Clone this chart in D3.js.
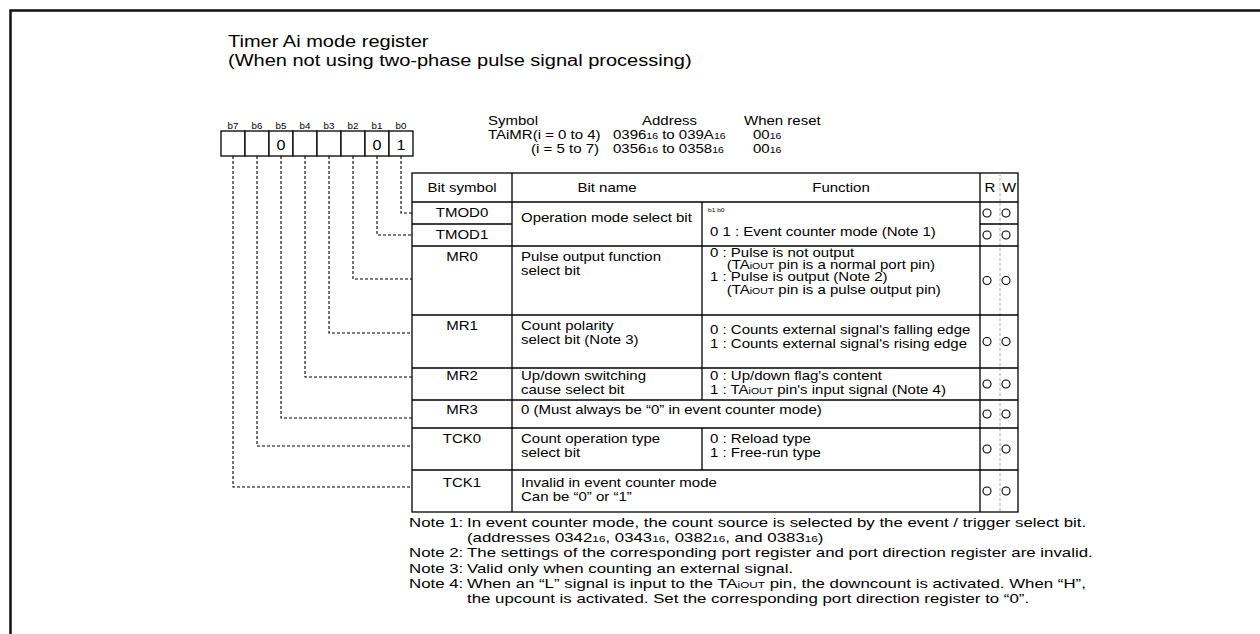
<!DOCTYPE html>
<html><head><meta charset="utf-8">
<script src="https://cdn.jsdelivr.net/npm/d3@7"></script>
<style>
body{margin:0;background:#fff}
svg{display:block}
text{font-family:"Liberation Sans",Arial,sans-serif;fill:#000;white-space:pre}
</style>
</head><body>
<svg id="chart" width="1260" height="634"></svg>
<script>
// ---------------- data ----------------
const titleLines = ["Timer Ai mode register", "(When not using two-phase pulse signal processing)"];
const bitLabels = ["b7", "b6", "b5", "b4", "b3", "b2", "b1", "b0"];
const bitValues = ["", "", "0", "", "", "", "0", "1"];
const symbolHeader = ["Symbol", "Address", "When reset"];
const symbolRow1 = ["TAiMR(i = 0 to 4)", "0396‹16› to 039A‹16›", "00‹16›"];
const symbolRow2 = ["(i = 5 to 7)", "0356‹16› to 0358‹16›", "00‹16›"];
const headerCols = ["Bit symbol", "Bit name", "Function", "R", "W"];
const bitSymbols = ["TMOD0", "TMOD1", "MR0", "MR1", "MR2", "MR3", "TCK0", "TCK1"];
const rowBits = ["b0", "b1", "b2", "b3", "b4", "b5", "b6", "b7"];
const bitNames = [
  ["Operation mode select bit"], null,
  ["Pulse output function", "select bit"],
  ["Count polarity", "select bit (Note 3)"],
  ["Up/down switching", "cause select bit"],
  null,
  ["Count operation type", "select bit"],
  null
];
const functionLines = [
  ["0 1 : Event counter mode (Note 1)"], null,
  ["0 : Pulse is not output", "    (TA‹iOUT› pin is a normal port pin)", "1 : Pulse is output (Note 2)", "    (TA‹iOUT› pin is a pulse output pin)"],
  ["0 : Counts external signal's falling edge", "1 : Counts external signal's rising edge"],
  ["0 : Up/down flag's content", "1 : TA‹iOUT› pin's input signal (Note 4)"],
  null,
  ["0 : Reload type", "1 : Free-run type"],
  null
];
const functionPrefix = ["b1 b0", null, null, null, null, null, null, null];
const mergedLines = [null, null, null, null, null,
  ["0 (Must always be “0” in event counter mode)"], null,
  ["Invalid in event counter mode", "Can be “0” or “1”"]];
const readable = [true, true, true, true, true, true, true, true];
const writable = [true, true, true, true, true, true, true, true];
const noteLabels = ["Note 1:", "", "Note 2:", "Note 3:", "Note 4:", ""];
const noteTexts = [
  "In event counter mode, the count source is selected by the event / trigger select bit.",
  "(addresses 0342‹16›, 0343‹16›, 0382‹16›, and 0383‹16›)",
  "The settings of the corresponding port register and port direction register are invalid.",
  "Valid only when counting an external signal.",
  "When an “L” signal is input to the TA‹iOUT› pin, the downcount is activated. When “H”,",
  "the upcount is activated. Set the corresponding port direction register to “0”."
];

// ---------------- layout ----------------
const L = {
  frameX: 10.5, frameY: 10.5,
  titleX: 228, titleY: [47, 66], titleSize: 16, titleSx: 1.25,
  boxX0: 221, boxX1: 413, boxY0: 131, boxY1: 156,
  tbl: {x0: 412, x1: 512, x2: 702, x3: 980, xRW: 1000, x4: 1018, top: 173},
  rowHeights: [29, 22, 22, 69, 53, 32, 28, 42, 42],
  connOffset: [11, 11, 33, 18, 9, 18, 18, 17],
  textShift: [0, 0, 0, 0, -3, -1, 0, 2],
  nameShift: [5, 0, 0, 0, -3, -1, 0, 2],
  funcShift: [0, 0, 0, 4, -3, 0, 0, 0],
  fs: 12.5, sx: 1.2,
  noteX: 409, noteTextX: 467, noteY0: 527, noteDy: 15.2, noteFs: 13, noteSx: 1.295
};

const svg = d3.select("#chart");

function rich(sel, x, y, str, size, sx, anchor) {
  const t = sel.append("text")
    .attr("transform", `translate(${x},${y}) scale(${sx},1)`)
    .attr("font-size", size)
    .attr("text-anchor", anchor || "start");
  str.split(/(‹[^›]*›)/).filter(s => s.length).forEach(s => {
    if (s.startsWith("‹")) t.append("tspan").attr("font-size", size * 0.7).text(s.slice(1, -1));
    else t.append("tspan").text(s);
  });
  return t;
}

// frame
svg.append("path")
  .attr("d", `M${L.frameX},634 V${L.frameY} H1262`)
  .attr("fill", "none").attr("stroke", "#111").attr("stroke-width", 2.5);

// title
titleLines.forEach((s, i) => rich(svg, L.titleX, L.titleY[i], s, L.titleSize, L.titleSx));

// bit box
const xBit = d3.scaleBand().domain(bitLabels).range([L.boxX0, L.boxX1]);
const gBits = svg.append("g");
gBits.selectAll("rect").data(bitLabels).join("rect")
  .attr("x", d => xBit(d)).attr("y", L.boxY0)
  .attr("width", xBit.bandwidth()).attr("height", L.boxY1 - L.boxY0)
  .attr("fill", "#fff").attr("stroke", "#000").attr("stroke-width", 1.3);
bitLabels.forEach(d => rich(gBits, xBit(d) + xBit.bandwidth() / 2, 129, d, 8.5, 1.15, "middle"));
bitValues.forEach((v, i) => { if (v) rich(gBits, xBit(bitLabels[i]) + xBit.bandwidth() / 2, 150, v, 14, 1.15, "middle"); });

// symbol block
const symX = [488, 642, 744];
rich(svg, symX[0], 125, symbolHeader[0], 12.5, 1.2);
rich(svg, symX[1], 125, symbolHeader[1], 12.5, 1.2);
rich(svg, symX[2], 125, symbolHeader[2], 12.5, 1.2);
rich(svg, symX[0], 139, symbolRow1[0], 12.5, 1.2);
rich(svg, 613, 139, symbolRow1[1], 12.5, 1.2);
rich(svg, 753, 139, symbolRow1[2], 12.5, 1.2);
rich(svg, 599, 153, symbolRow2[0], 12.5, 1.2, "end");
rich(svg, 613, 153, symbolRow2[1], 12.5, 1.2);
rich(svg, 753, 153, symbolRow2[2], 12.5, 1.2);

// table rows
const T = L.tbl;
const tops = [T.top];
L.rowHeights.forEach((h, i) => tops.push(tops[i] + h));
const bottom = tops[tops.length - 1];
const yRow = d3.scaleOrdinal().domain(["header", ...bitSymbols]).range(tops.slice(0, -1));
const hRow = d3.scaleOrdinal().domain(["header", ...bitSymbols]).range(L.rowHeights);

const gT = svg.append("g");
const line = (x1, y1, x2, y2, w) => gT.append("line").attr("x1", x1).attr("y1", y1).attr("x2", x2).attr("y2", y2)
  .attr("stroke", "#000").attr("stroke-width", w || 1.3);

gT.append("rect").attr("x", T.x0).attr("y", T.top).attr("width", T.x4 - T.x0).attr("height", bottom - T.top)
  .attr("fill", "none").attr("stroke", "#000").attr("stroke-width", 1.3);
line(T.x0, tops[1], T.x4, tops[1]);
line(T.x1, T.top, T.x1, bottom);
line(T.x3, T.top, T.x3, bottom);
gT.append("line").attr("x1", T.xRW).attr("x2", T.xRW).attr("y1", T.top).attr("y2", bottom)
  .attr("stroke", "#aaa").attr("stroke-width", 1).attr("stroke-dasharray", "3,2");
bitSymbols.forEach((s, i) => {
  const yb = yRow(s) + hRow(s);
  if (i === bitSymbols.length - 1) return;
  if (s === "TMOD0") { line(T.x0, yb, T.x1, yb); line(T.x3, yb, T.x4, yb); }
  else line(T.x0, yb, T.x4, yb);
});
bitSymbols.forEach((s, i) => {
  if (mergedLines[i]) return;
  if (s === "TMOD1") return;
  const y0 = yRow(s), y1 = (s === "TMOD0") ? yRow(s) + hRow(s) + hRow("TMOD1") : yRow(s) + hRow(s);
  line(T.x2, y0, T.x2, y1);
});

// header text
const hy = T.top + 19;
rich(gT, (T.x0 + T.x1) / 2, hy, headerCols[0], L.fs, L.sx, "middle");
rich(gT, (T.x1 + T.x2) / 2, hy, headerCols[1], L.fs, L.sx, "middle");
rich(gT, (T.x2 + T.x3) / 2, hy, headerCols[2], L.fs, L.sx, "middle");
rich(gT, 990, hy, headerCols[3], L.fs, L.sx, "middle");
rich(gT, 1009, hy, headerCols[4], L.fs, L.sx, "middle");

// rows content
bitSymbols.forEach((s, i) => {
  const y0 = yRow(s);
  const ts = L.textShift[i], ns = L.nameShift[i];
  rich(gT, (T.x0 + T.x1) / 2, y0 + 15 + ts, s, L.fs, L.sx, "middle");
  if (bitNames[i]) bitNames[i].forEach((t, k) => rich(gT, T.x1 + 9, y0 + 15 + ns + k * 13.5, t, L.fs, L.sx));
  if (functionPrefix[i]) rich(gT, T.x2 + 6, y0 + 10, functionPrefix[i], 6, 1.1);
  if (functionLines[i]) {
    const n = functionLines[i].length;
    const base = (s === "TMOD0") ? y0 + hRow(s) + hRow("TMOD1") / 2 + 0.5 : (n > 2 ? y0 + 11 : y0 + 15) + L.funcShift[i];
    const dy = n > 2 ? 12.2 : 13.8;
    functionLines[i].forEach((t, k) => rich(gT, T.x2 + 8, base + k * dy, t, L.fs, L.sx));
  }
  if (mergedLines[i]) mergedLines[i].forEach((t, k) => rich(gT, T.x1 + 9, y0 + 15 + ns + k * 13.5, t, L.fs, L.sx));
  const cy = y0 + hRow(s) / 2;
  if (readable[i]) gT.append("circle").attr("cx", 987).attr("cy", cy).attr("r", 4).attr("fill", "none").attr("stroke", "#000").attr("stroke-width", 1.1);
  if (writable[i]) gT.append("circle").attr("cx", 1006).attr("cy", cy).attr("r", 4).attr("fill", "none").attr("stroke", "#000").attr("stroke-width", 1.1);
});

// dashed connectors
const gC = svg.append("g");
bitSymbols.forEach((s, i) => {
  const xb = xBit(rowBits[i]) + xBit.bandwidth() / 2;
  const yc = yRow(s) + L.connOffset[i];
  gC.append("path").attr("d", `M${xb},${L.boxY1} V${yc} H${T.x0}`)
    .attr("fill", "none").attr("stroke", "#000").attr("stroke-width", 1.1).attr("stroke-dasharray", "3,2");
});

// notes
noteTexts.forEach((t, i) => {
  const y = L.noteY0 + i * L.noteDy;
  if (noteLabels[i]) rich(svg, L.noteX, y, noteLabels[i], L.noteFs, L.noteSx);
  rich(svg, L.noteTextX, y, t, L.noteFs, L.noteSx);
});
</script>
</body></html>
